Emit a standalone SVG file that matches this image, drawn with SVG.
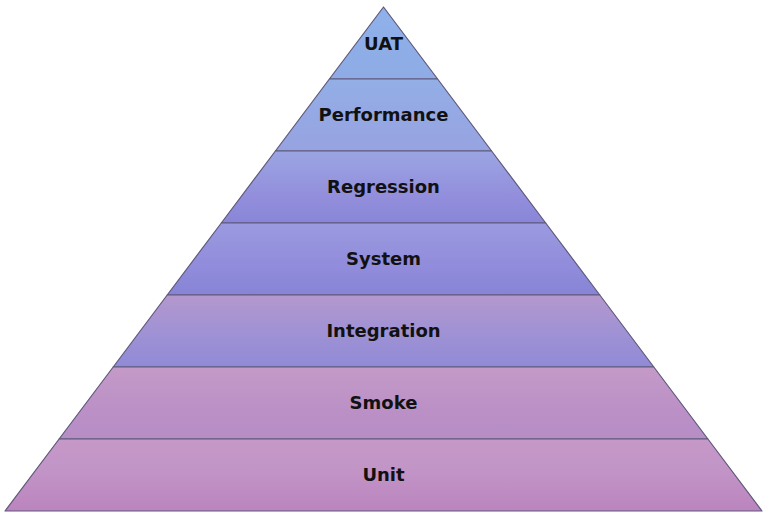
<svg xmlns="http://www.w3.org/2000/svg" width="766" height="518" viewBox="0 0 766 518">
<style>
.layer{stroke:#5e587a;stroke-width:1.2;stroke-linejoin:round}
.lbl{font-family:"DejaVu Sans","Liberation Sans",sans-serif;font-weight:bold;font-size:18px;fill:#111;text-anchor:middle}
</style>
<defs>
<linearGradient id="g1" x1="0" y1="0" x2="0" y2="1"><stop offset="0" stop-color="#8fb1e9"/><stop offset="1" stop-color="#8eabe6"/></linearGradient>
<linearGradient id="g2" x1="0" y1="0" x2="0" y2="1"><stop offset="0" stop-color="#93aee6"/><stop offset="1" stop-color="#97a3e1"/></linearGradient>
<linearGradient id="g3" x1="0" y1="0" x2="0" y2="1"><stop offset="0" stop-color="#9ba5e3"/><stop offset="0.6" stop-color="#938fdc"/><stop offset="1" stop-color="#8986d8"/></linearGradient>
<linearGradient id="g4" x1="0" y1="0" x2="0" y2="1"><stop offset="0" stop-color="#9b9ae0"/><stop offset="0.6" stop-color="#918cdb"/><stop offset="1" stop-color="#8784d6"/></linearGradient>
<linearGradient id="g5" x1="0" y1="0" x2="0" y2="1"><stop offset="0" stop-color="#b498cd"/><stop offset="0.5" stop-color="#a092d4"/><stop offset="1" stop-color="#908ad7"/></linearGradient>
<linearGradient id="g6" x1="0" y1="0" x2="0" y2="1"><stop offset="0" stop-color="#c49ac8"/><stop offset="0.6" stop-color="#bb90c6"/><stop offset="1" stop-color="#b78dc6"/></linearGradient>
<linearGradient id="g7" x1="0" y1="0" x2="0" y2="1"><stop offset="0" stop-color="#c598c8"/><stop offset="0.4" stop-color="#c295c7"/><stop offset="1" stop-color="#bb84be"/></linearGradient>
</defs>
<g id="connectors"></g>
<g id="layer-uat">
<polygon class="layer" fill="url(#g1)" points="383.5,7 437.6,79 329.4,79"/>
<text class="lbl" x="383.5" y="49.5">UAT</text>
</g>
<g id="layer-performance">
<polygon class="layer" fill="url(#g2)" points="329.4,79 437.6,79 491.6,151 275.4,151"/>
<text class="lbl" x="383.5" y="120.5">Performance</text>
</g>
<g id="layer-regression">
<polygon class="layer" fill="url(#g3)" points="275.4,151 491.6,151 545.7,223 221.3,223"/>
<text class="lbl" x="383.5" y="192.5">Regression</text>
</g>
<g id="layer-system">
<polygon class="layer" fill="url(#g4)" points="221.3,223 545.7,223 599.8,295 167.2,295"/>
<text class="lbl" x="383.5" y="264.5">System</text>
</g>
<g id="layer-integration">
<polygon class="layer" fill="url(#g5)" points="167.2,295 599.8,295 653.8,367 113.2,367"/>
<text class="lbl" x="383.5" y="336.5">Integration</text>
</g>
<g id="layer-smoke">
<polygon class="layer" fill="url(#g6)" points="113.2,367 653.8,367 707.9,439 59.1,439"/>
<text class="lbl" x="383.5" y="408.5">Smoke</text>
</g>
<g id="layer-unit">
<polygon class="layer" fill="url(#g7)" points="59.1,439 707.9,439 762,511 5,511"/>
<text class="lbl" x="383.5" y="480.5">Unit</text>
</g>
</svg>
